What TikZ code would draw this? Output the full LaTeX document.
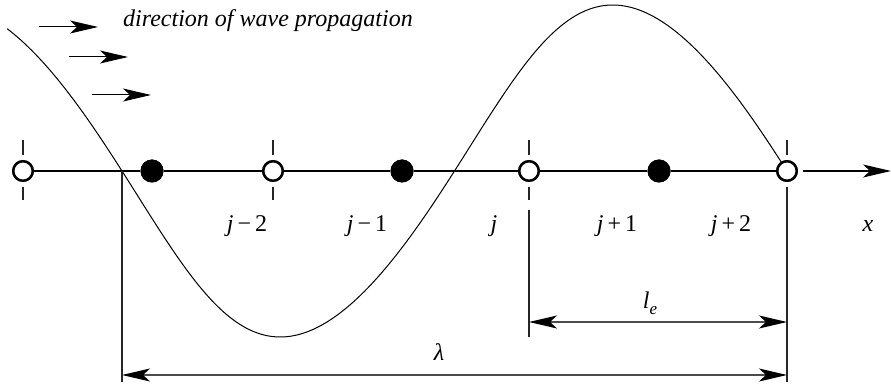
\documentclass[tikz,border=0pt]{standalone}
\usepackage{fontspec}
\setmainfont{Liberation Serif}
\newfontfamily\tms{Liberation Serif}
\usetikzlibrary{arrows.meta}
\begin{document}
\begin{tikzpicture}[x=1pt,y=-1pt,
  opn/.style={circle,draw=black,line width=2.4pt,fill=white,minimum size=19.5pt,inner sep=0pt},
  fil/.style={circle,fill=black,minimum size=23pt,inner sep=0pt},
  tick/.style={line width=1.2pt,black!85},
  dimline/.style={line width=1.3pt,black!70},
  tip/.style={-{Stealth[length=28pt,width=13pt,inset=7pt,black]}},
  dtip/.style={{Stealth[length=28pt,width=13pt,inset=7pt,black]}-{Stealth[length=28pt,width=13pt,inset=7pt,black]}},
  lbl/.style={anchor=base,inner sep=0pt,font=\tms\fontsize{24}{28}\selectfont}
]
\useasboundingbox (0,0) rectangle (891,387);
% wave
\draw[line width=1pt] plot[domain=-59:360,samples=240,variable=\t]
  ({122+1.84722*\t-8*sin(\t)*sin(\t)},{171+166*sin(\t)});
% axis
\coordinate (xend) at (891,171);
\node[opn] (o1) at (23,171) {};
\node[fil] (f1) at (152,171) {};
\node[opn] (o2) at (273,171) {};
\node[fil] (f2) at (402,171) {};
\node[opn] (o3) at (529,171) {};
\node[fil] (f3) at (659,171) {};
\node[opn] (o4) at (787,171) {};
\draw[line width=2.4pt] (o1) -- (f1) -- (o2) -- (f2) -- (o3) -- (f3) -- (o4);
\foreach \n in {o1,o2,o3,o4}{\node[opn] at (\n) {};}
\node[fil] at (f1) {};\node[fil] at (f2) {};\node[fil] at (f3) {};
\draw[line width=1.1pt,tip] ([xshift=5pt]o4.east) -- (xend);
% ticks
\foreach \n in {o1,o2,o3,o4}{
  \draw[tick] ([yshift=16pt]\n.center) -- ([yshift=31pt]\n.center);
}
\foreach \n in {o1,o2,o3}{
  \draw[tick] ([yshift=-16pt]\n.center) -- ([yshift=-29pt]\n.center);
}
% extension lines
\coordinate (lamL) at (122,382);
\coordinate (lamR) at (787,382);
\coordinate (leTop) at (529,210);
\coordinate (leBot) at (529,337);
\draw[tick] (122,171) -- (lamL);
\draw[tick] ([yshift=-16pt]o4.center) -- (lamR);
\draw[tick] (leTop) -- (leBot);
% dimension arrows
\draw[dimline,dtip] (529,322) -- (787,322);
\draw[dimline,dtip] (122,375) -- (787,375);
\node[lbl] (le) at (650,308) {\textit{l}\raisebox{-0.28em}{\fontsize{17}{19}\selectfont\textit{e}}};
\node[lbl] (lam) at (439,360) {\textit{λ}};
% index labels
\node[lbl] (jm2) at (247,232) {\textit{j}\,−\,2};
\node[lbl] (jm1) at (367,232) {\textit{j}\,−\,1};
\node[lbl] (j0) at (494,232) {\textit{j}};
\node[lbl] (jp1) at (617,232) {\textit{j}\,+\,1};
\node[lbl] (jp2) at (731,232) {\textit{j}\,+\,2};
\node[lbl] (xl) at (868,232) {\textit{x}};
% propagation arrows
\coordinate (a1s) at (39,27); \coordinate (a1e) at (98,27);
\coordinate (a2s) at (69,57); \coordinate (a2e) at (128,57);
\coordinate (a3s) at (92,95); \coordinate (a3e) at (151,95);
\draw[line width=1pt,tip] (a1s) -- (a1e);
\draw[line width=1pt,tip] (a2s) -- (a2e);
\draw[line width=1pt,tip] (a3s) -- (a3e);
\node[lbl,anchor=base west] (title) at (123,27) {\textit{direction of wave propagation}};
\end{tikzpicture}
\end{document}
